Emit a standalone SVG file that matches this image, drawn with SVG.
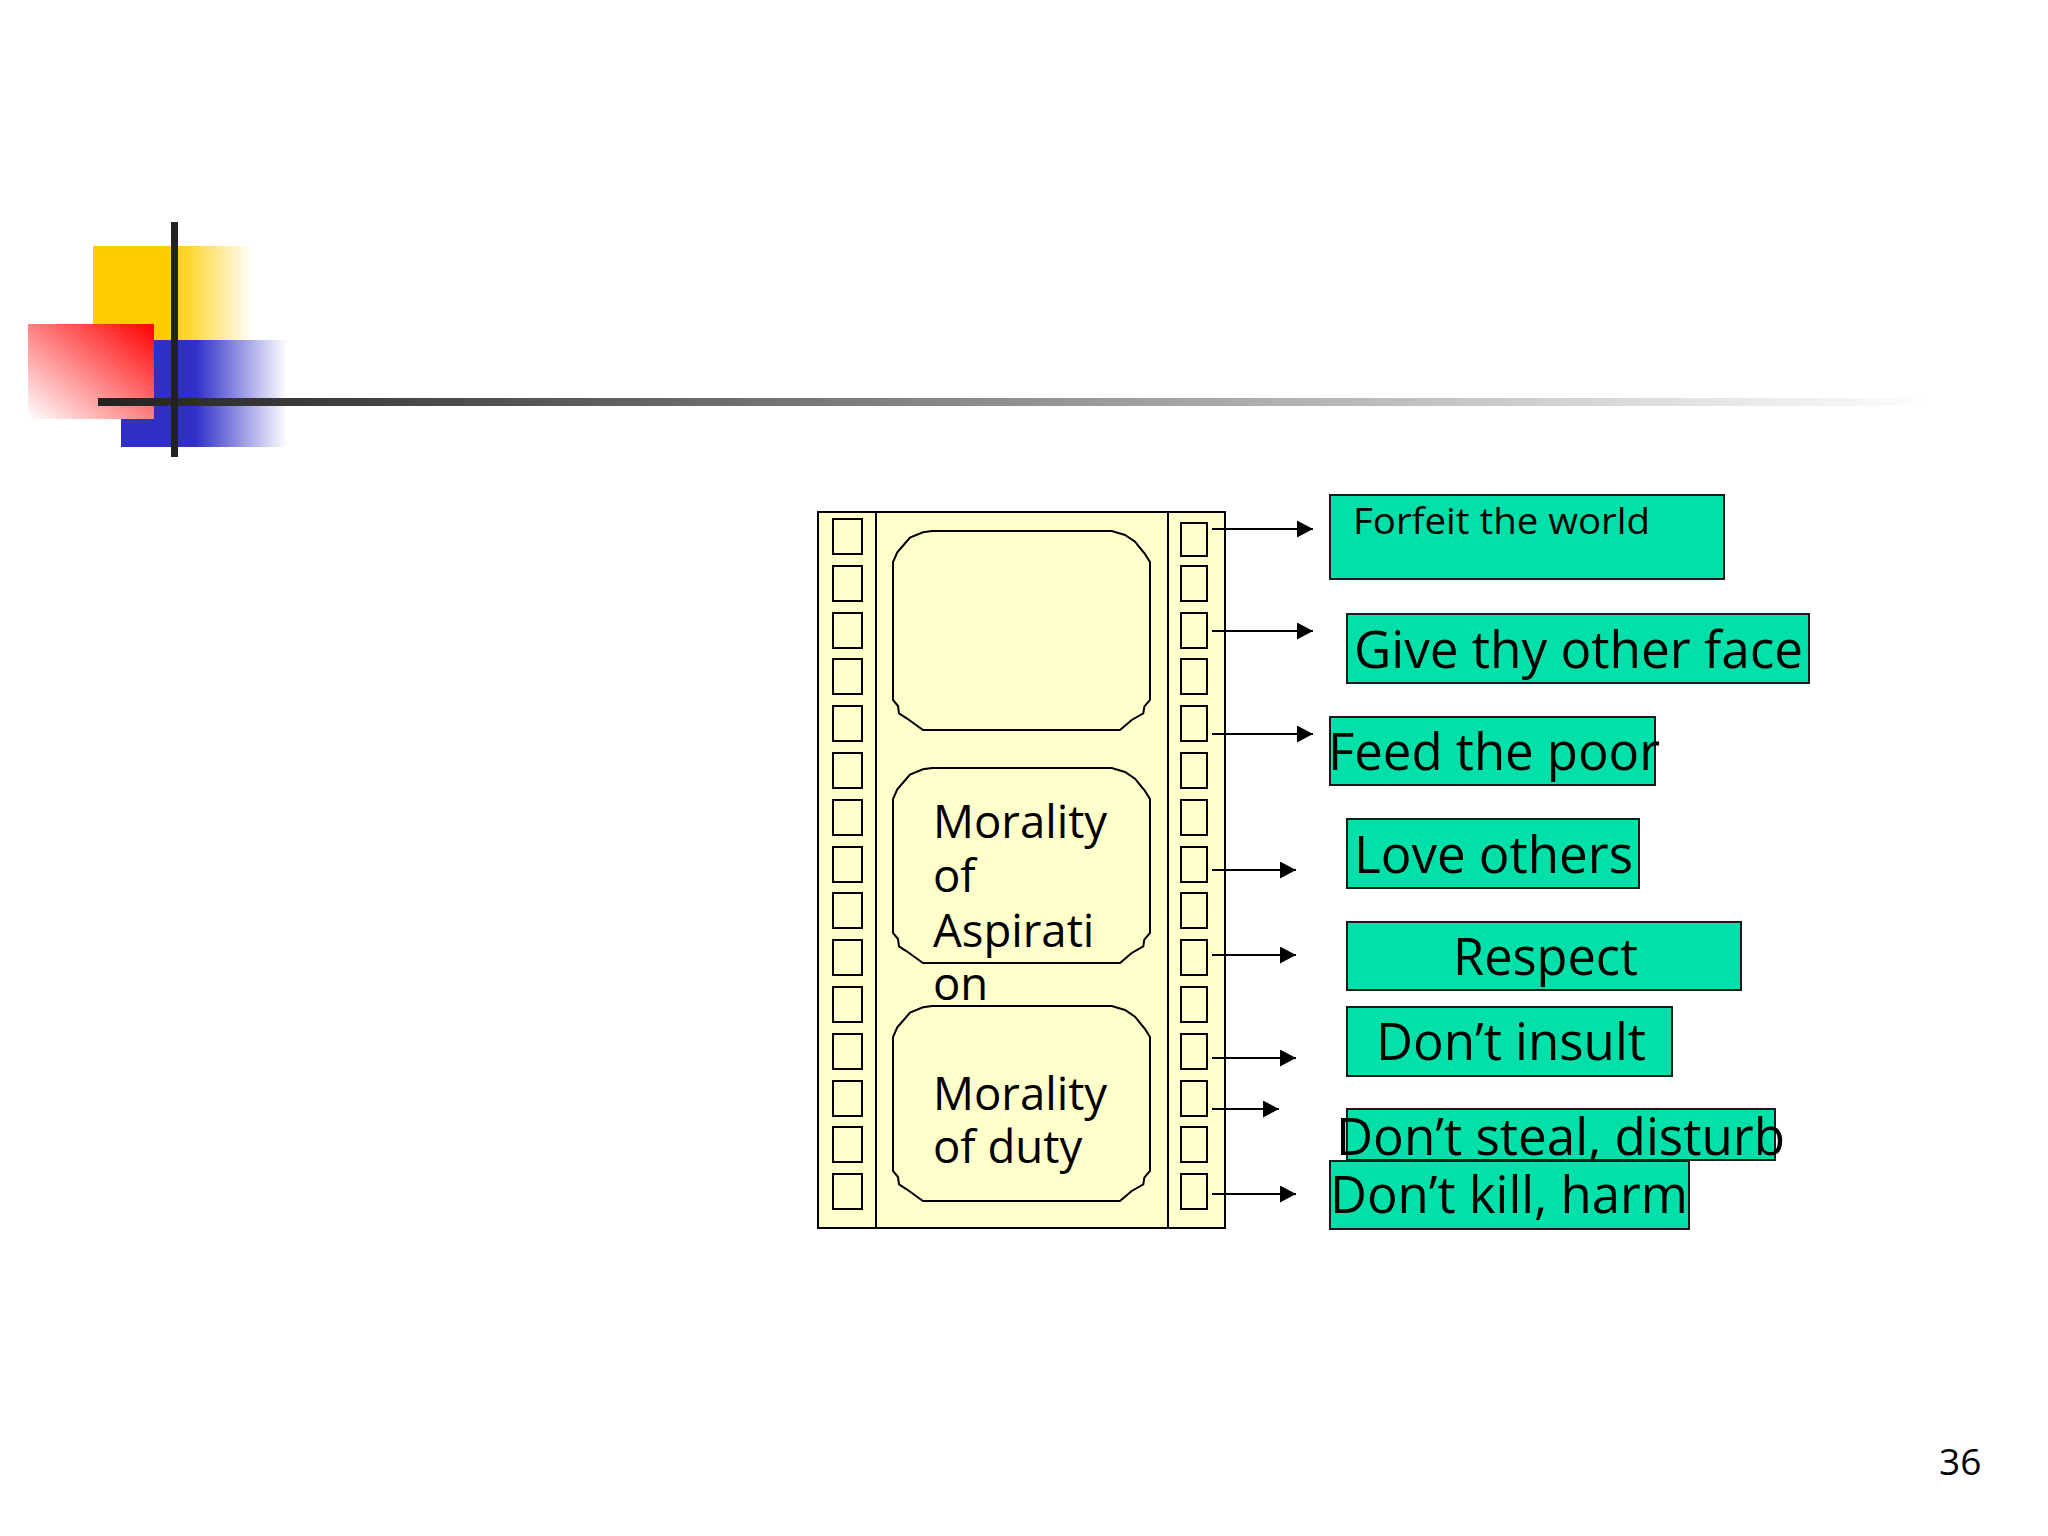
<svg xmlns="http://www.w3.org/2000/svg" width="2048" height="1536" viewBox="0 0 2048 1536">
  <defs>
    <linearGradient id="gYellow" x1="0" y1="0" x2="1" y2="0">
      <stop offset="0" stop-color="#FFCC00"/>
      <stop offset="0.5" stop-color="#FFCC00"/>
      <stop offset="1" stop-color="#FFFFFF"/>
    </linearGradient>
    <linearGradient id="gBlue" x1="0" y1="0" x2="1" y2="0">
      <stop offset="0" stop-color="#3030C8"/>
      <stop offset="0.45" stop-color="#3030C8"/>
      <stop offset="1" stop-color="#FFFFFF"/>
    </linearGradient>
    <linearGradient id="gRed" x1="1" y1="0" x2="0" y2="1">
      <stop offset="0" stop-color="#FF0000"/>
      <stop offset="1" stop-color="#FFFFFF"/>
    </linearGradient>
    <linearGradient id="gLine" gradientUnits="userSpaceOnUse" x1="98" y1="0" x2="1933" y2="0">
      <stop offset="0" stop-color="#222222"/>
      <stop offset="1" stop-color="#FFFFFF"/>
    </linearGradient>
    <marker id="arrow" markerUnits="userSpaceOnUse" markerWidth="17" markerHeight="18" refX="16" refY="8.5" orient="auto">
      <path d="M0,0 L16,8.5 L0,17 Z" fill="#000"/>
    </marker>
    <path id="frame195" d="M39,0 L30,1.3 L17,6.7 L6.3,19 L4.3,21.3 L0,31 L0,165 L5,171 L6,178.3 L13.7,183.3 L30,195 L227,195 L238.7,185 L250.3,178.3 L251.3,171.7 L257,165 L257,31 L251.3,22 L250.3,21 L242,10.7 L232,4 L218.7,0 Z"/>
    <rect id="holeL" width="29" height="35"/>
    <rect id="holeR" width="26" height="35"/>
  </defs>
  <style>
    .film { fill: #FFFFCC; stroke: #000; stroke-width: 2; }
    .hole { fill: #FFFFCC; stroke: #000; stroke-width: 2; }
    .frame { fill: #FFFFCC; stroke: #000; stroke-width: 2; }
    .box { fill: #00E0A8; stroke: #1a1a1a; stroke-width: 2; }
    .lbl { font-family: "Open Sans", "Noto Sans", sans-serif; fill: #000; }
    .conn { stroke: #000; stroke-width: 2; fill: none; }
  </style>
  <rect width="2048" height="1536" fill="#FFFFFF"/>

  <g id="decoration">
    <rect x="93" y="246" width="160" height="94" fill="url(#gYellow)"/>
    <rect x="121" y="340" width="166" height="107" fill="url(#gBlue)"/>
    <rect x="28" y="324" width="126" height="95" fill="url(#gRed)"/>
    <rect x="98" y="398" width="1835" height="8" fill="url(#gLine)"/>
    <rect x="171" y="222" width="7" height="235" fill="#222222"/>
  </g>

  <g id="filmstrip">
    <rect class="film" x="818" y="512" width="407" height="716"/>
    <line x1="876" y1="512" x2="876" y2="1228" stroke="#000" stroke-width="2"/>
    <line x1="1168" y1="512" x2="1168" y2="1228" stroke="#000" stroke-width="2"/>
    <g id="holes-left" class="hole">
      <use href="#holeL" x="833" y="519"/>
      <use href="#holeL" x="833" y="566"/>
      <use href="#holeL" x="833" y="613"/>
      <use href="#holeL" x="833" y="659"/>
      <use href="#holeL" x="833" y="706"/>
      <use href="#holeL" x="833" y="753"/>
      <use href="#holeL" x="833" y="800"/>
      <use href="#holeL" x="833" y="847"/>
      <use href="#holeL" x="833" y="893"/>
      <use href="#holeL" x="833" y="940"/>
      <use href="#holeL" x="833" y="987"/>
      <use href="#holeL" x="833" y="1034"/>
      <use href="#holeL" x="833" y="1081"/>
      <use href="#holeL" x="833" y="1127"/>
      <use href="#holeL" x="833" y="1174"/>
    </g>
    <g id="holes-right" class="hole">
      <rect x="1181" y="523" width="26" height="33"/>
      <use href="#holeR" x="1181" y="566"/>
      <use href="#holeR" x="1181" y="613"/>
      <use href="#holeR" x="1181" y="659"/>
      <use href="#holeR" x="1181" y="706"/>
      <use href="#holeR" x="1181" y="753"/>
      <use href="#holeR" x="1181" y="800"/>
      <use href="#holeR" x="1181" y="847"/>
      <use href="#holeR" x="1181" y="893"/>
      <use href="#holeR" x="1181" y="940"/>
      <use href="#holeR" x="1181" y="987"/>
      <use href="#holeR" x="1181" y="1034"/>
      <use href="#holeR" x="1181" y="1081"/>
      <use href="#holeR" x="1181" y="1127"/>
      <use href="#holeR" x="1181" y="1174"/>
    </g>
  </g>

  <g id="frame-top">
    <path class="frame" transform="translate(893,531)" d="M39,0 L30,1.3 L17,6.7 L6.3,19 L4.3,21.3 L0,31 L0,169 L5,175 L6,182.3 L13.7,187.3 L30,199 L227,199 L238.7,189 L250.3,182.3 L251.3,175.7 L257,169 L257,31 L251.3,22 L250.3,21 L242,10.7 L232,4 L218.7,0 Z"/>
  </g>

  <g id="frame-aspiration">
    <use href="#frame195" class="frame" x="893" y="768"/>
    <text class="lbl" font-size="45.5" x="933" y="838">Morality</text>
    <text class="lbl" font-size="45.5" x="933" y="892">of</text>
    <text class="lbl" font-size="45.5" x="933" y="947">Aspirati</text>
    <text class="lbl" font-size="45.5" x="933" y="1000">on</text>
  </g>

  <g id="frame-duty">
    <use href="#frame195" class="frame" x="893" y="1006"/>
    <text class="lbl" font-size="45.5" x="933" y="1110">Morality</text>
    <text class="lbl" font-size="45.5" x="933" y="1163">of duty</text>
  </g>

  <g id="connectors">
    <line class="conn" x1="1212" y1="529" x2="1313" y2="529" marker-end="url(#arrow)"/>
    <line class="conn" x1="1212" y1="631" x2="1313" y2="631" marker-end="url(#arrow)"/>
    <line class="conn" x1="1212" y1="734" x2="1313" y2="734" marker-end="url(#arrow)"/>
    <line class="conn" x1="1212" y1="870" x2="1296" y2="870" marker-end="url(#arrow)"/>
    <line class="conn" x1="1212" y1="955" x2="1296" y2="955" marker-end="url(#arrow)"/>
    <line class="conn" x1="1212" y1="1058" x2="1296" y2="1058" marker-end="url(#arrow)"/>
    <line class="conn" x1="1212" y1="1109" x2="1279" y2="1109" marker-end="url(#arrow)"/>
    <line class="conn" x1="1212" y1="1194" x2="1296" y2="1194" marker-end="url(#arrow)"/>
  </g>

  <g id="box-forfeit">
    <rect class="box" x="1330" y="495" width="394" height="84"/>
    <text class="lbl" font-size="37" x="1353" y="534" textLength="297" lengthAdjust="spacingAndGlyphs">Forfeit the world</text>
  </g>
  <g id="box-give">
    <rect class="box" x="1347" y="614" width="462" height="69"/>
    <text class="lbl" font-size="51" x="1354" y="668" textLength="449" lengthAdjust="spacingAndGlyphs">Give thy other face</text>
  </g>
  <g id="box-feed">
    <rect class="box" x="1330" y="717" width="325" height="68"/>
    <text class="lbl" font-size="51" x="1328" y="770" textLength="332" lengthAdjust="spacingAndGlyphs">Feed the poor</text>
  </g>
  <g id="box-love">
    <rect class="box" x="1347" y="819" width="292" height="69"/>
    <text class="lbl" font-size="51" x="1354" y="873" textLength="279" lengthAdjust="spacingAndGlyphs">Love others</text>
  </g>
  <g id="box-respect">
    <rect class="box" x="1347" y="922" width="394" height="68"/>
    <text class="lbl" font-size="51" x="1453" y="975" textLength="185" lengthAdjust="spacingAndGlyphs">Respect</text>
  </g>
  <g id="box-insult">
    <rect class="box" x="1347" y="1007" width="325" height="69"/>
    <text class="lbl" font-size="51" x="1376" y="1060" textLength="270" lengthAdjust="spacingAndGlyphs">Don’t insult</text>
  </g>
  <g id="box-steal">
    <rect class="box" x="1347" y="1109" width="428" height="51"/>
    <text class="lbl" font-size="51" x="1336" y="1155" textLength="449" lengthAdjust="spacingAndGlyphs">Don’t steal, disturb</text>
  </g>
  <g id="box-kill">
    <rect class="box" x="1330" y="1161" width="359" height="68"/>
    <text class="lbl" font-size="51" x="1330" y="1213" textLength="358" lengthAdjust="spacingAndGlyphs">Don’t kill, harm</text>
  </g>

  <text id="page-number" class="lbl" font-size="37" x="1939" y="1475">36</text>
</svg>
